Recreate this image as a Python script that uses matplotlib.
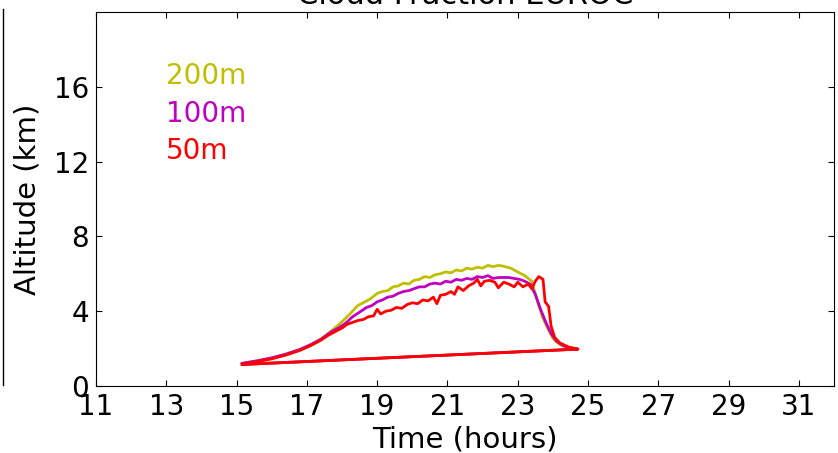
import matplotlib.pyplot as plt
from matplotlib.lines import Line2D

# top edge of each cloud envelope (hours, km); closed back along the base
t_200 = [15.16, 15.6, 16.0, 16.4, 16.8, 17.1, 17.4, 17.7, 17.95, 18.2, 18.45, 18.6, 18.8,
         19.0, 19.15, 19.3, 19.45, 19.6, 19.75, 19.9, 20.05, 20.2, 20.35, 20.5, 20.65,
         20.8, 20.95, 21.1, 21.25, 21.4, 21.55, 21.7, 21.85, 22.0, 22.15, 22.3, 22.45,
         22.6, 22.8, 23.0, 23.2, 23.4, 23.55, 23.7, 23.85, 24.0, 24.2, 24.45, 24.71]
z_200 = [1.21, 1.35, 1.5, 1.7, 1.95, 2.2, 2.5, 2.95, 3.35, 3.8, 4.3, 4.45, 4.65,
         4.95, 5.05, 5.1, 5.3, 5.35, 5.5, 5.45, 5.65, 5.7, 5.85, 5.8, 5.95,
         6.0, 6.1, 6.05, 6.2, 6.15, 6.3, 6.25, 6.35, 6.3, 6.45, 6.38, 6.45,
         6.4, 6.3, 6.1, 5.9, 5.6, 4.6, 3.7, 3.1, 2.55, 2.2, 2.05, 1.97]

t_100 = [15.16, 15.6, 16.0, 16.4, 16.8, 17.1, 17.4, 17.7, 17.9, 18.1, 18.3, 18.5, 18.7,
         18.85, 19.0, 19.15, 19.3, 19.45, 19.6, 19.75, 19.9, 20.05, 20.2, 20.35, 20.5,
         20.65, 20.8, 20.95, 21.1, 21.25, 21.4, 21.55, 21.7, 21.85, 22.0, 22.15, 22.3,
         22.45, 22.6, 22.75, 22.9, 23.05, 23.2, 23.35, 23.5, 23.65, 23.8, 23.95, 24.1,
         24.3, 24.5, 24.71]
z_100 = [1.21, 1.35, 1.5, 1.7, 1.95, 2.2, 2.5, 2.9, 3.1, 3.35, 3.7, 3.95, 4.2,
         4.3, 4.5, 4.6, 4.75, 4.8, 4.95, 5.05, 5.1, 5.2, 5.3, 5.3, 5.45,
         5.5, 5.45, 5.6, 5.55, 5.7, 5.65, 5.75, 5.7, 5.85, 5.8, 5.9, 5.75,
         5.8, 5.8, 5.8, 5.75, 5.7, 5.6, 5.45, 4.9, 4.1, 3.4, 2.8, 2.4,
         2.15, 2.02, 1.97]

t_50 = [15.16, 15.6, 16.0, 16.4, 16.8, 17.1, 17.4, 17.6, 17.8, 18.0, 18.15, 18.3, 18.45,
        18.6, 18.75, 18.9, 19.0, 19.1, 19.25, 19.4, 19.55, 19.7, 19.85, 20.0, 20.15,
        20.3, 20.45, 20.6, 20.7, 20.8, 20.95, 21.1, 21.2, 21.3, 21.45, 21.6, 21.75,
        21.85, 21.95, 22.05, 22.2, 22.35, 22.45, 22.6, 22.75, 22.9, 23.0, 23.15, 23.3,
        23.4, 23.5, 23.6, 23.72, 23.78, 23.88, 23.95, 24.05, 24.2, 24.45, 24.71]
z_50 = [1.15, 1.3, 1.45, 1.65, 1.9, 2.15, 2.45, 2.7, 2.9, 3.1, 3.3, 3.4, 3.5,
        3.55, 3.7, 3.75, 4.1, 3.85, 4.0, 4.05, 4.2, 4.15, 4.35, 4.45, 4.4,
        4.6, 4.55, 4.75, 4.4, 4.85, 4.9, 5.05, 4.9, 5.3, 5.1, 5.35, 5.5,
        5.7, 5.35, 5.6, 5.65, 5.55, 5.25, 5.55, 5.45, 5.3, 5.55, 5.3, 5.45,
        5.2, 5.6, 5.85, 5.7, 4.5, 4.25, 3.2, 2.6, 2.3, 2.08, 1.97]

# cloud base line, shared by all runs
t_base = [24.71, 15.16]
z_base = [1.97, 1.15]

labels = ['200m', '100m', '50m']
colors = ['#bfbf00', '#bf00bf', '#ff0000']
series = [(t_200, z_200), (t_100, z_100), (t_50, z_50)]

plt.rcParams['font.family'] = 'DejaVu Sans'
fig = plt.figure(figsize=(8.38, 4.53), dpi=100)
ax = fig.add_axes([0.1146, 0.148, 0.8806, 0.8255])

for (t, z), c in zip(series, colors):
    ax.plot(t + t_base, z + z_base, color=c, lw=2)

# run labels stacked in the upper left
for i, (lab, c) in enumerate(zip(labels, colors)):
    ax.text(12.98, 16.6 - 2.03 * i, lab, color=c, fontsize=20,
            ha='left', va='center')

ax.set_xlim(11, 32)
ax.set_ylim(0, 20)
ax.set_xticks(range(11, 32, 2))
ax.set_yticks([0, 4, 8, 12, 16])
ax.tick_params(direction='in', top=True, right=True, labelsize=20, length=4, pad=5)
ax.set_xlabel('Time (hours)', fontsize=21, labelpad=3)
ax.set_ylabel('Altitude (km)', fontsize=21, labelpad=9)
ax.set_title('Cloud Fraction EUROC', fontsize=22)

# edge of the neighbouring panel
fig.add_artist(Line2D([0.004, 0.004], [0.15, 0.98], color='black', lw=1))

fig.savefig('out.png', dpi=100)
